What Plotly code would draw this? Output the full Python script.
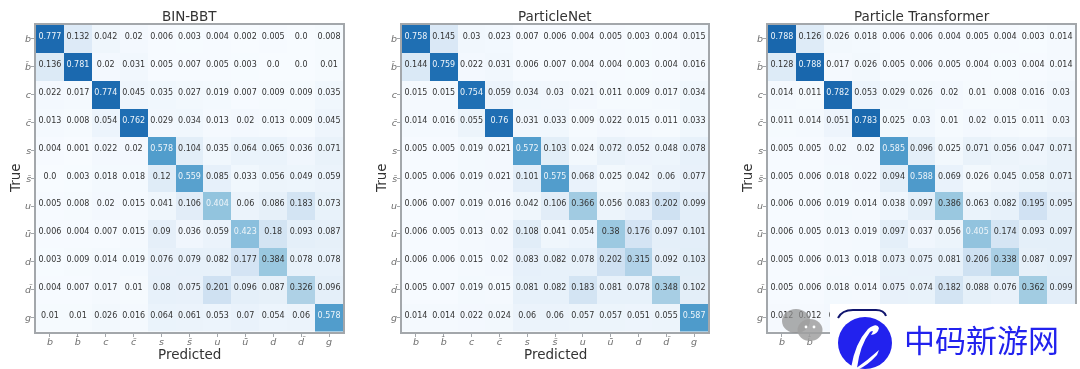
import plotly.graph_objects as go

W, H = 1080, 369
classes = ["b", "b̄", "c", "c̄", "s", "s̄", "u", "ū", "d", "d̄", "g"]

bin_bbt = [
    ["0.777","0.132","0.042","0.02","0.006","0.003","0.004","0.002","0.005","0.0","0.008"],
    ["0.136","0.781","0.02","0.031","0.005","0.007","0.005","0.003","0.0","0.0","0.01"],
    ["0.022","0.017","0.774","0.045","0.035","0.027","0.019","0.007","0.009","0.009","0.035"],
    ["0.013","0.008","0.054","0.762","0.029","0.034","0.013","0.02","0.013","0.009","0.045"],
    ["0.004","0.001","0.022","0.02","0.578","0.104","0.035","0.064","0.065","0.036","0.071"],
    ["0.0","0.003","0.018","0.018","0.12","0.559","0.085","0.033","0.056","0.049","0.059"],
    ["0.005","0.008","0.02","0.015","0.041","0.106","0.404","0.06","0.086","0.183","0.073"],
    ["0.006","0.004","0.007","0.015","0.09","0.036","0.059","0.423","0.18","0.093","0.087"],
    ["0.003","0.009","0.014","0.019","0.076","0.079","0.082","0.177","0.384","0.078","0.078"],
    ["0.004","0.007","0.017","0.01","0.08","0.075","0.201","0.096","0.087","0.326","0.096"],
    ["0.01","0.01","0.026","0.016","0.064","0.061","0.053","0.07","0.054","0.06","0.578"],
]
particle_net = [
    ["0.758","0.145","0.03","0.023","0.007","0.006","0.004","0.005","0.003","0.004","0.015"],
    ["0.144","0.759","0.022","0.031","0.006","0.007","0.004","0.004","0.003","0.004","0.016"],
    ["0.015","0.015","0.754","0.059","0.034","0.03","0.021","0.011","0.009","0.017","0.034"],
    ["0.014","0.016","0.055","0.76","0.031","0.033","0.009","0.022","0.015","0.011","0.033"],
    ["0.005","0.005","0.019","0.021","0.572","0.103","0.024","0.072","0.052","0.048","0.078"],
    ["0.005","0.006","0.019","0.021","0.101","0.575","0.068","0.025","0.042","0.06","0.077"],
    ["0.006","0.007","0.019","0.016","0.042","0.106","0.366","0.056","0.083","0.202","0.099"],
    ["0.006","0.005","0.013","0.02","0.108","0.041","0.054","0.38","0.176","0.097","0.101"],
    ["0.006","0.006","0.015","0.02","0.083","0.082","0.078","0.202","0.315","0.092","0.103"],
    ["0.005","0.007","0.019","0.015","0.081","0.082","0.183","0.081","0.078","0.348","0.102"],
    ["0.014","0.014","0.022","0.024","0.06","0.06","0.057","0.057","0.051","0.055","0.587"],
]
# last row: only the first two values are readable, the rest sits under the watermark (estimated)
particle_transformer = [
    ["0.788","0.126","0.026","0.018","0.006","0.006","0.004","0.005","0.004","0.003","0.014"],
    ["0.128","0.788","0.017","0.026","0.005","0.006","0.005","0.004","0.003","0.004","0.014"],
    ["0.014","0.011","0.782","0.053","0.029","0.026","0.02","0.01","0.008","0.016","0.03"],
    ["0.011","0.014","0.051","0.783","0.025","0.03","0.01","0.02","0.015","0.011","0.03"],
    ["0.005","0.005","0.02","0.02","0.585","0.096","0.025","0.071","0.056","0.047","0.071"],
    ["0.005","0.006","0.018","0.022","0.094","0.588","0.069","0.026","0.045","0.058","0.071"],
    ["0.006","0.006","0.019","0.014","0.038","0.097","0.386","0.063","0.082","0.195","0.095"],
    ["0.006","0.005","0.013","0.019","0.097","0.037","0.056","0.405","0.174","0.093","0.097"],
    ["0.005","0.006","0.013","0.018","0.073","0.075","0.081","0.206","0.338","0.087","0.097"],
    ["0.005","0.006","0.018","0.014","0.075","0.074","0.182","0.088","0.076","0.362","0.099"],
    ["0.012","0.012","0.02","0.02","0.06","0.06","0.055","0.055","0.05","0.053","0.6"],
]
# (title, matrix, left px, right px, x label visible, number of x tick labels visible, cells labelled in last row)
panels = [
    ("BIN-BBT", bin_bbt, 36, 343, True, 11, 11),
    ("ParticleNet", particle_net, 402, 708, True, 11, 11),
    ("Particle Transformer", particle_transformer, 768, 1075, False, 2, 3),
]
TOP, BOTTOM = 25, 331.5
TEXT_LIFT = 0.06  # the numbers sit slightly above the cell centres in the reference
FONT = "DejaVu Sans"
BORDER = "#a3a7ab"
TICK = "#6e6e6e"
TXT = "#333333"
BLUES = ["#f7fbff", "#deebf7", "#c6dbef", "#9ecae1", "#6baed6", "#4292c6", "#2171b5", "#08519c", "#08306b"]
COLORSCALE = [[i / 8, c] for i, c in enumerate(BLUES)]
idx = list(range(len(classes)))


def px(x):
    return x / W


def py(y):
    return 1 - y / H


def label(text, x, y, size=13.5, color="#333333", family=FONT, angle=0):
    return dict(text=text, x=px(x), y=py(y), xref="paper", yref="paper", showarrow=False,
                xanchor="center", yanchor="middle", textangle=angle,
                font=dict(family=family, size=size, color=color))


fig = go.Figure()
layout = {}
annotations = []
for n, (title, matrix, left, right, show_xlabel, n_xticks, n_last) in enumerate(panels, start=1):
    sfx = "" if n == 1 else str(n)
    z = [[float(v) for v in row] for row in matrix]
    fig.add_trace(go.Heatmap(
        z=z, x=idx, y=idx, xaxis=f"x{sfx}", yaxis=f"y{sfx}",
        colorscale=COLORSCALE, zmin=0, zmax=1, showscale=False, hoverinfo="skip",
    ))
    xs, ys, labels, colors = [], [], [], []
    for i, row in enumerate(matrix):
        for j, v in enumerate(row):
            if i == len(matrix) - 1 and j >= n_last:
                continue
            xs.append(j)
            ys.append(i - TEXT_LIFT)
            labels.append(v)
            colors.append("#eef5fa" if float(v) > 0.39 else TXT)
    fig.add_trace(go.Scatter(
        x=xs, y=ys, text=labels, mode="text", xaxis=f"x{sfx}", yaxis=f"y{sfx}",
        textfont=dict(family=FONT, size=8, color=colors), textposition="middle center",
        hoverinfo="skip", showlegend=False,
    ))
    axis_common = dict(
        tickmode="array", ticks="outside", ticklen=3, tickwidth=1, tickcolor=BORDER,
        tickfont=dict(family=FONT, size=9.5, color=TICK, style="italic"),
        showgrid=False, zeroline=False, showline=True, mirror=True,
        linecolor=BORDER, linewidth=2, automargin=False,
    )
    layout[f"xaxis{sfx}"] = dict(
        axis_common, domain=[px(left), px(right)], anchor=f"y{sfx}", tickangle=0,
        range=[-0.5, 10.5], tickvals=idx[:n_xticks], ticktext=classes[:n_xticks],
        ticklabelstandoff=-3,
    )
    layout[f"yaxis{sfx}"] = dict(
        axis_common, domain=[py(BOTTOM), py(TOP)], anchor=f"x{sfx}", range=[10.5, -0.5],
        tickvals=idx, ticktext=classes, ticklabelstandoff=-2,
    )
    mid = (left + right) / 2
    annotations.append(label(title, mid, 16))
    annotations.append(label("True", left - 21, 178, angle=-90))
    if show_xlabel:  # the third panel's label lies under the watermark box in the reference
        annotations.append(label("Predicted", mid, 354))


def rect(x0, y0, x1, y1, color):
    return dict(type="rect", xref="paper", yref="paper", x0=px(x0), x1=px(x1), y0=py(y0), y1=py(y1),
                fillcolor=color, line_width=0, layer="above")


def oval(cx, cy, rx, ry, color, opacity=1):
    return dict(type="circle", xref="paper", yref="paper", x0=px(cx - rx), x1=px(cx + rx),
                y0=py(cy - ry), y1=py(cy + ry), fillcolor=color, line_width=0,
                layer="above", opacity=opacity)


def path(d, fill=None, line=None, width=0):
    return dict(type="path", xref="paper", yref="paper", path=d, fillcolor=fill,
                line=dict(color=line, width=width) if line else dict(width=0), layer="above")


def P(x, y):
    return f"{px(x):.5f},{py(y):.5f}"


shapes = [
    oval(796, 321, 14, 12, "#8f8f8f", 0.72),
    oval(810, 330, 12.5, 11, "#a0a0a0", 0.85),
    oval(806, 327, 1.4, 1.4, "#ffffff"),
    oval(814, 327, 1.4, 1.4, "#ffffff"),
    rect(830, 304, 1080, 369, "#ffffff"),
    path(f"M {P(838, 318)} Q {P(842, 310)} {P(853, 310)} L {P(876, 310)} Q {P(884, 310)} {P(886, 316)}",
         line="#10156e", width=2),
    oval(865, 343, 27, 26, "#2222ee"),
    path(f"M {P(851, 368)} Q {P(855, 343)} {P(868, 329)} Q {P(877, 322)} {P(879, 328)} "
         f"Q {P(878, 334)} {P(871, 335)} Q {P(875, 329)} {P(870, 332)} Q {P(860, 345)} {P(857, 368)} Z",
         fill="#ffffff"),
    path(f"M {P(855, 369)} Q {P(868, 360)} {P(879, 350)} L {P(877, 355)} Q {P(868, 365)} {P(859, 369)} Z",
         fill="#ffffff"),
]
annotations.append(label("中码新游网", 981, 338, size=31, color="#2222ee", family="Noto Sans CJK SC"))

fig.update_layout(
    width=W, height=H, margin=dict(l=0, r=0, t=0, b=0), autosize=False,
    paper_bgcolor="white", plot_bgcolor="white", showlegend=False,
    annotations=annotations, shapes=shapes, **layout,
)
post = """
document.body.style.margin='0';document.body.style.overflow='hidden';
document.querySelectorAll('.cartesianlayer').forEach(function(e){e.style.filter='blur(0.45px)';});
var a=document.querySelectorAll('.annotation');
a.forEach(function(e,i){if(i<a.length-1){e.style.filter='blur(0.45px)';}});
"""
fig.write_html("out.html", config={"displayModeBar": False}, post_script=post)
